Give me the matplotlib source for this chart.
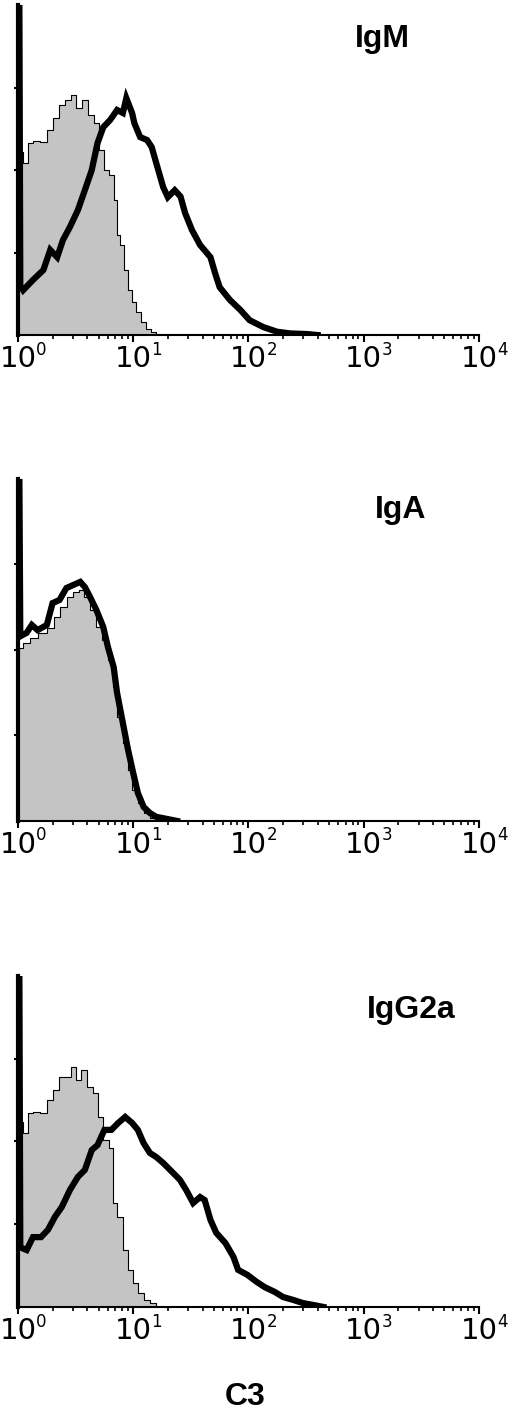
import numpy as np
import matplotlib.pyplot as plt
from matplotlib.ticker import LogLocator, NullFormatter

# positions in decades (log10 of fluorescence), heights in % of axis height
ctl1_pos = [0.0, 0.009, 0.075, 0.104, 0.162, 0.220, 0.278, 0.336, 0.379, 0.437, 0.480, 0.523, 0.581, 0.639, 0.683,
            0.726, 0.769, 0.813, 0.850, 0.870, 0.900, 0.937, 0.972, 1.006, 1.044, 1.088, 1.131, 1.174, 1.218]
ctl1_val = [55.5, 55.5, 52.1, 58.2, 58.8, 58.5, 62.1, 65.8, 69.7, 71.2, 72.7, 68.8, 71.2, 66.7, 64.2,
            56, 50, 48.5, 41, 30.3, 27.3, 19.7, 13.6, 10, 7, 3.9, 1.8, 0.9, 0]
igm_pos = [0.0, 0.012, 0.02, 0.045, 0.13, 0.22, 0.28, 0.34, 0.39, 0.45, 0.52, 0.58, 0.64, 0.69, 0.74, 0.80, 0.86,
           0.91, 0.94, 0.99, 1.01, 1.06, 1.12, 1.16, 1.20, 1.26, 1.30, 1.36, 1.41, 1.45, 1.51, 1.58, 1.67, 1.71,
           1.75, 1.84, 1.93, 2.01, 2.13, 2.25, 2.36, 2.51, 2.6]
igm_val = [100, 100, 15, 13.6, 16.7, 19.7, 25.8, 23.6, 28.8, 32.7, 37.9, 43.9, 50, 58.2, 63, 65.2, 68.2,
           67.3, 71.8, 67.3, 64.2, 60, 59.1, 57, 52.1, 44.8, 41.8, 43.9, 42, 37, 31.8, 27.3, 23.6, 18.8,
           14.5, 10.6, 7.6, 4.5, 2.4, 1, 0.5, 0.3, 0]

ctl2_pos = [0.0, 0.075, 0.13, 0.22, 0.28, 0.34, 0.39, 0.45, 0.51, 0.55, 0.60, 0.65, 0.71, 0.755, 0.80, 0.84,
            0.885, 0.93, 0.97, 1.015, 1.06, 1.12, 1.17, 1.23]
ctl2_val = [50.6, 52, 53.5, 55, 56.4, 59.6, 62.6, 65.5, 67, 67.5, 65.5, 61.7, 56.7, 52.9, 47, 39.2,
            30.4, 22.8, 14.9, 9.1, 5.3, 2.3, 0.9, 0]
iga_pos = [0.0, 0.012, 0.02, 0.075, 0.12, 0.17, 0.25, 0.30, 0.36, 0.42, 0.48, 0.54, 0.58, 0.625, 0.68, 0.74,
           0.78, 0.83, 0.86, 0.90, 0.955, 1.0, 1.04, 1.09, 1.145, 1.20, 1.29, 1.38]
iga_val = [100, 100, 54, 55, 57.3, 55.8, 57.3, 63.7, 64.6, 68.1, 69, 69.9, 68.4, 65.5, 61.7, 56.7,
           50.9, 45, 37.4, 30.4, 20.8, 14, 8.2, 4.1, 2.3, 1.2, 0.6, 0]

ctl3_pos = [0.0, 0.009, 0.07, 0.104, 0.162, 0.22, 0.278, 0.336, 0.379, 0.437, 0.48, 0.523, 0.567, 0.625, 0.683,
            0.71, 0.769, 0.813, 0.84, 0.885, 0.93, 0.972, 1.015, 1.06, 1.12, 1.174, 1.218]
ctl3_val = [55.9, 55.9, 52.6, 58.6, 58.9, 58.6, 62.5, 65.6, 69.5, 69.5, 72.5, 68.6, 71.6, 66.5, 64.6,
            57.4, 50.5, 48, 31.4, 27.2, 17.2, 11.2, 7.3, 4.2, 2.1, 1.2, 0]
igg_pos = [0.0, 0.012, 0.02, 0.075, 0.13, 0.20, 0.26, 0.32, 0.38, 0.45, 0.52, 0.58, 0.64, 0.69, 0.75, 0.81,
           0.87, 0.93, 0.99, 1.04, 1.09, 1.145, 1.20, 1.26, 1.32, 1.38, 1.405, 1.46, 1.52, 1.58, 1.62, 1.67,
           1.72, 1.80, 1.87, 1.91, 1.99, 2.07, 2.14, 2.23, 2.30, 2.39, 2.47, 2.56, 2.65]
igg_val = [100, 100, 18, 17.2, 21.1, 21.1, 23.3, 27.2, 30.2, 35.3, 39.3, 41.4, 47.4, 48.9, 53.5, 53.5,
           55.6, 57.4, 55.6, 53.5, 49.5, 46.5, 45.3, 43.5, 41.4, 39.3, 38.4, 35.3, 31.4, 33.2, 32.3, 26.3,
           22.4, 19.3, 15.1, 11.2, 9.7, 7.6, 6, 4.5, 3, 2.1, 1.2, 0.6, 0]

panels = [
    ('IgM', ctl1_pos, ctl1_val, igm_pos, igm_val, [0.0346, 0.7627, 0.8865, 0.2337], (355, 47)),
    ('IgA', ctl2_pos, ctl2_val, iga_pos, iga_val, [0.0346, 0.4186, 0.8865, 0.2422], (375, 518)),
    ('IgG2a', ctl3_pos, ctl3_val, igg_pos, igg_val, [0.0346, 0.0744, 0.8865, 0.2344], (367, 1018)),
]
decades = [0, 1, 2, 3, 4]

W, H = 520, 1412
fig = plt.figure(figsize=(W / 100, H / 100), dpi=100)

for name, cp, cv, sp, sv, rect, (tx, ty) in panels:
    ax = fig.add_axes(rect)
    cx = 10 ** np.array(cp)
    # grey control histogram, thick black stained sample on top
    ax.fill_between(cx, cv, color='#c4c4c4', lw=0, step='mid')
    ax.plot(cx, cv, color='black', lw=0.8, drawstyle='steps-mid')
    ax.plot(10 ** np.array(sp), sv, color='black', lw=4.5, solid_joinstyle='miter')

    ax.set_xscale('log')
    ax.set_xlim(1, 10 ** 4)
    ax.set_ylim(0, 100)
    for s in ['top', 'right']:
        ax.spines[s].set_visible(False)
    ax.spines['left'].set_linewidth(3)
    ax.spines['bottom'].set_linewidth(1.5)

    ax.set_yticks([25, 50, 75])
    ax.set_yticklabels([])
    ax.tick_params(axis='y', direction='out', length=3, width=1.5)

    ax.set_xticks([10 ** d for d in decades])
    ax.set_xticklabels(['10'] * len(decades), fontsize=21, family='DejaVu Sans')
    ax.xaxis.set_minor_locator(LogLocator(base=10, subs=np.arange(2, 10)))
    ax.xaxis.set_minor_formatter(NullFormatter())
    ax.tick_params(axis='x', which='major', direction='out', length=5, width=1.5, pad=2)
    ax.tick_params(axis='x', which='minor', direction='out', length=3, width=1.2)
    for d in decades:
        ax.annotate(str(d), xy=(10 ** d, 0), xycoords=('data', 'axes fraction'),
                    xytext=(13, -4), textcoords='offset points', ha='left', va='top',
                    fontsize=12, family='DejaVu Sans', annotation_clip=False)

    fig.text(tx / W, 1 - ty / H, name, fontsize=23, fontweight='bold',
             family='Liberation Sans', ha='left', va='baseline')

fig.text(245 / W, 1 - 1405 / H, 'C3', fontsize=23, fontweight='bold',
         family='Liberation Sans', ha='center', va='baseline')

fig.savefig('out.png', dpi=100)
